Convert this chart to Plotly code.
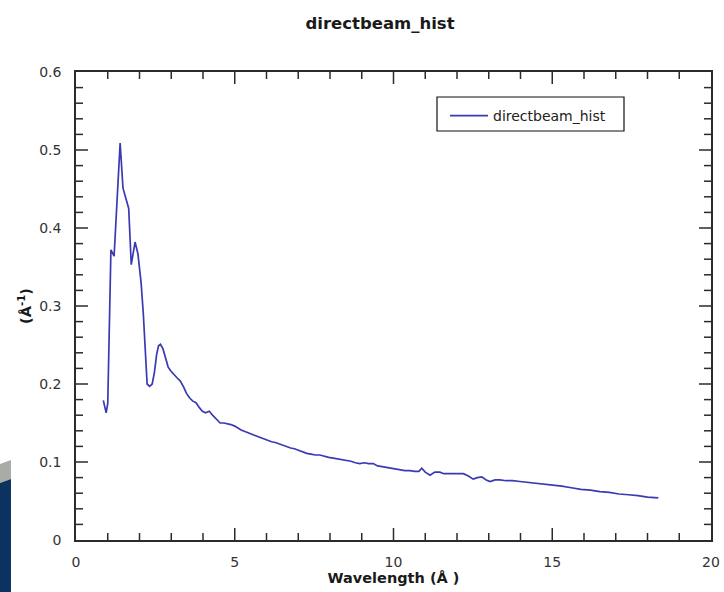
import plotly.graph_objects as go

# Direct-beam histogram: intensity per unit wavelength
wavelength = [
    0.86, 0.95, 1.00, 1.10, 1.20, 1.39, 1.48, 1.58, 1.66, 1.74, 1.86, 1.95,
    2.05, 2.12, 2.18, 2.24, 2.32, 2.40, 2.47, 2.54, 2.60, 2.66, 2.74, 2.82,
    2.90, 2.98, 3.08, 3.18, 3.28, 3.38, 3.48, 3.58, 3.68, 3.78, 3.88, 3.98,
    4.08, 4.20, 4.30, 4.42, 4.54, 4.66, 4.78, 4.88, 5.00, 5.10, 5.20, 5.32,
    5.44, 5.56, 5.68, 5.80, 5.92, 6.04, 6.16, 6.28, 6.40, 6.52, 6.64, 6.76,
    6.88, 7.00, 7.14, 7.27, 7.40, 7.54, 7.68, 7.82, 7.96, 8.10, 8.24, 8.38,
    8.52, 8.66, 8.80, 8.94, 9.08, 9.22, 9.36, 9.50, 9.64, 9.78, 9.92, 10.06,
    10.20, 10.36, 10.52, 10.66, 10.80, 10.89, 11.00, 11.15, 11.30, 11.46, 11.58,
    11.70, 11.88, 12.04, 12.20, 12.36, 12.51, 12.64, 12.78, 12.92, 13.04, 13.20,
    13.35, 13.55, 13.75, 13.98, 14.20, 14.45, 14.70, 15.00, 15.30, 15.60, 15.90,
    16.20, 16.50, 16.80, 17.10, 17.40, 17.70, 18.00, 18.34,
]
intensity = [
    0.179, 0.163, 0.175, 0.372, 0.364, 0.509, 0.451, 0.437, 0.425, 0.353, 0.382, 0.367,
    0.330, 0.290, 0.240, 0.200, 0.197, 0.200, 0.215, 0.238, 0.249, 0.251, 0.245, 0.234,
    0.222, 0.217, 0.212, 0.208, 0.204, 0.197, 0.188, 0.182, 0.178, 0.176, 0.170, 0.165,
    0.163, 0.165, 0.160, 0.155, 0.150, 0.150, 0.149, 0.148, 0.146, 0.143, 0.141, 0.139,
    0.137, 0.135, 0.134, 0.132, 0.130, 0.128, 0.126, 0.125, 0.123, 0.122, 0.120, 0.118,
    0.117, 0.115, 0.113, 0.111, 0.110, 0.109, 0.109, 0.107, 0.106, 0.105, 0.104, 0.103,
    0.102, 0.101, 0.099, 0.098, 0.099, 0.098, 0.098, 0.095, 0.094, 0.093, 0.092, 0.091,
    0.090, 0.089, 0.089, 0.088, 0.088, 0.092, 0.087, 0.083, 0.087, 0.087, 0.085,
    0.085, 0.085, 0.085, 0.085, 0.082, 0.078, 0.080, 0.081, 0.077, 0.075, 0.077,
    0.077, 0.076, 0.076, 0.075, 0.074, 0.073, 0.072, 0.071, 0.069, 0.067, 0.065,
    0.064, 0.062, 0.061, 0.059, 0.058, 0.057, 0.055, 0.054,
]

# Axis scales and tick labels
x_range = [0, 20]
x_ticks = [0, 5, 10, 15, 20]
x_labels = ["0", "5", "10", "15", "20"]
x_minor = [1, 2, 3, 4, 6, 7, 8, 9, 11, 12, 13, 14, 16, 17, 18, 19]
y_range = [0, 0.6]
y_ticks = [0, 0.1, 0.2, 0.3, 0.4, 0.5, 0.6]
y_labels = ["0", "0.1", "0.2", "0.3", "0.4", "0.5", "0.6"]
y_minor = [0.02, 0.04, 0.06, 0.08, 0.12, 0.14, 0.16, 0.18, 0.22, 0.24, 0.26, 0.28,
           0.32, 0.34, 0.36, 0.38, 0.42, 0.44, 0.46, 0.48, 0.52, 0.54, 0.56, 0.58]

FONT = "DejaVu Sans"
AXIS_COLOR = "#2b2b2b"
LABEL_COLOR = "#333333"
MAJOR_LEN, MINOR_LEN = 12, 7

fig = go.Figure()
fig.add_trace(
    go.Scatter(
        x=wavelength,
        y=intensity,
        mode="lines",
        name="directbeam_hist",
        line=dict(color="#3a3ab2", width=1.7),
    )
)

label_axis = dict(
    automargin=False,
    showgrid=False,
    zeroline=False,
    showline=True,
    linecolor=AXIS_COLOR,
    linewidth=1.6,
    mirror=True,
    ticks="",
    tickmode="array",
    tickfont=dict(family=FONT, size=14, color=LABEL_COLOR),
)

fig.update_layout(
    xaxis=dict(
        range=x_range, tickvals=x_ticks, ticktext=x_labels,
        ticklabelstandoff=8,
        title=dict(text="Wavelength (Å )", standoff=2,
                   font=dict(family=FONT, size=14.5, weight="bold", color="#1a1a1a")),
        **label_axis,
    ),
    yaxis=dict(
        range=y_range, tickvals=y_ticks, ticktext=y_labels,
        ticklabelstandoff=10,
        title=dict(text="(Å<sup>-1</sup>)", standoff=4,
                   font=dict(family=FONT, size=14.5, weight="bold", color="#1a1a1a")),
        **label_axis,
    ),
)

# Inward tick marks on all four sides, placed on the data scales
tick_line = dict(color=AXIS_COLOR, width=1.5)
for vals, length in ((x_ticks[1:-1], MAJOR_LEN), (x_minor, MINOR_LEN)):
    for v in vals:
        for anchor, sign in ((0, 1), (1, -1)):
            fig.add_shape(type="line", xref="x", yref="paper", ysizemode="pixel",
                          yanchor=anchor, x0=v, x1=v, y0=0, y1=sign * length,
                          line=tick_line, layer="above")
for vals, length in ((y_ticks[1:-1], MAJOR_LEN), (y_minor, MINOR_LEN)):
    for v in vals:
        for anchor, sign in ((0, 1), (1, -1)):
            fig.add_shape(type="line", xref="paper", yref="y", xsizemode="pixel",
                          xanchor=anchor, y0=v, y1=v, x0=0, x1=sign * length,
                          line=tick_line, layer="above")

# Backdrop fragment at the lower-left edge of the window
fig.add_shape(
    type="path", xref="paper", yref="paper", layer="below",
    path="M -0.1197,0.1624 L -0.1024,0.1709 L -0.1024,0.1303 L -0.1197,0.1218 Z",
    fillcolor="#a9aca6", line=dict(width=0),
)
fig.add_shape(
    type="path", xref="paper", yref="paper", layer="below",
    path="M -0.1197,0.1218 L -0.1024,0.1303 L -0.1024,-0.1111 L -0.1197,-0.1111 Z",
    fillcolor="#0c3260", line=dict(width=0),
)

# Legend frame
fig.add_shape(
    type="rect", xref="paper", yref="paper", layer="above",
    x0=(437 - 76) / 635, x1=(624 - 76) / 635,
    y0=(540 - 131) / 468, y1=(540 - 97) / 468,
    line=dict(color="#111111", width=1.2), fillcolor="rgba(0,0,0,0)",
)

fig.update_layout(
    width=724,
    height=592,
    margin=dict(l=76, r=13, t=72, b=52, autoexpand=False),
    paper_bgcolor="white",
    plot_bgcolor="white",
    title=dict(
        text="directbeam_hist",
        x=380 / 724, xref="container", xanchor="center",
        y=1 - 23 / 592, yref="container", yanchor="middle",
        font=dict(family=FONT, size=16.5, weight="bold", color="#1a1a1a"),
    ),
    showlegend=True,
    legend=dict(
        x=(445 - 76) / 635, y=(540 - 100) / 468, xanchor="left", yanchor="top",
        bgcolor="rgba(0,0,0,0)", borderwidth=0,
        font=dict(family=FONT, size=14, color="#222222"),
        itemwidth=38,
    ),
)

fig.write_html("out.html")
